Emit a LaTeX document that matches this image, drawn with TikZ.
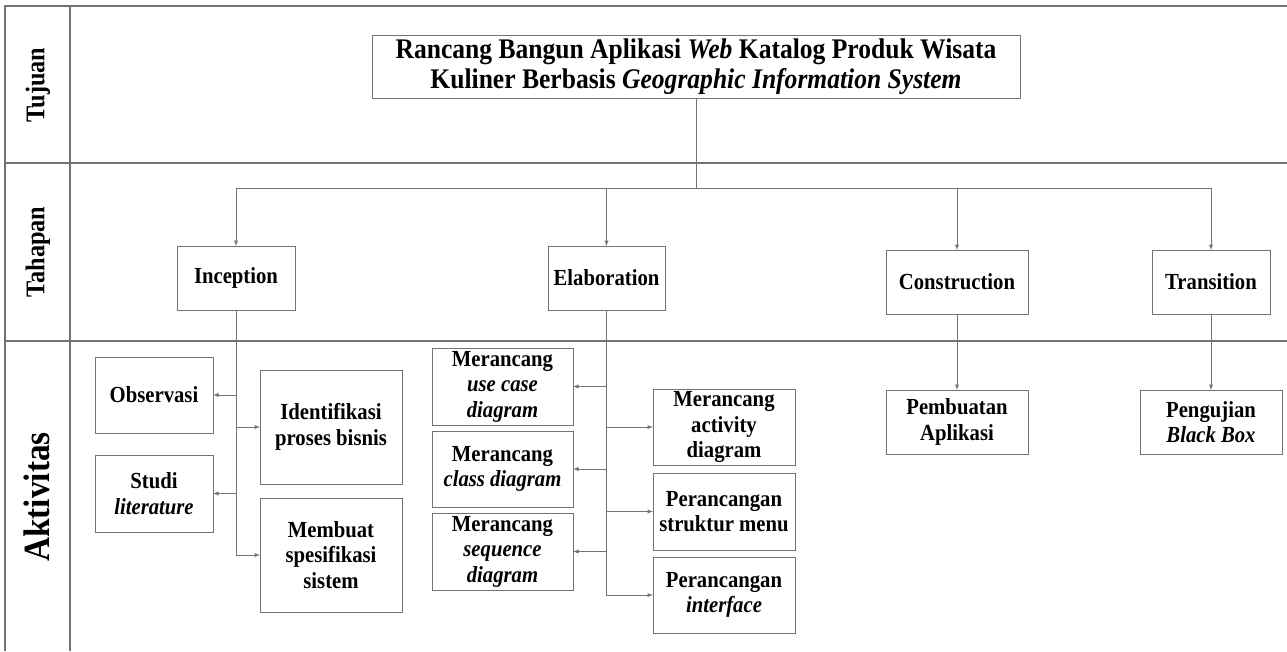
\documentclass[tikz,border=0pt]{standalone}
\usepackage{fontspec}
\setmainfont{Liberation Serif}
\newfontfamily\boxfont{Liberation Serif}[FakeStretch=0.9]
\usetikzlibrary{positioning}
\usetikzlibrary{arrows}

\begin{document}
\begin{tikzpicture}[>=latex,x=1pt,y=-1pt,
	line/.style={draw=black!55,line width=.9pt},
	frame/.style={draw=black!55,line width=1.5pt},
	box/.style={draw=black!55,line width=.9pt,outer sep=0pt,inner sep=0pt,align=center,font=\boxfont\bfseries\fontsize{23}{25.5}\selectfont},
	row_txt/.style={rotate=90,font=\boxfont\bfseries\fontsize{27}{30}\selectfont}]
	\useasboundingbox (0,0) rectangle (1287,651);
	\fill [white] (0,0) rectangle (1287,651);

	\draw [frame] (1287,6) -- (5,6) -- (5,651);
	\draw [frame] (70,6) -- (70,651);
	\draw [frame] (5,163) -- (1287,163);
	\draw [frame] (5,341) -- (1287,341);

	\node [row_txt] at (38,85) (tujuan_txt) {Tujuan};
	\node [row_txt] at (38,252) (tahapan_txt) {Tahapan};
	\node [row_txt,font=\boxfont\bfseries\fontsize{37}{40}\selectfont] at (37,497) (aktivitas_txt) {Aktivitas};

	\node [box,minimum width=648pt,minimum height=63pt,font=\boxfont\bfseries\fontsize{28.4}{30}\selectfont] at (696,67) (title_box) {Rancang Bangun Aplikasi \textit{Web} Katalog Produk Wisata\\Kuliner Berbasis \textit{Geographic Information System}};

	\node [box,minimum width=118pt,minimum height=64pt] at (236,278) (phase_inc) {Inception};
	\node [box,minimum width=117pt,minimum height=64pt] at (606.5,278) (phase_ela) {Elaboration};
	\node [box,minimum width=142pt,minimum height=64pt] at (957,282) (phase_con) {Construction};
	\node [box,minimum width=118pt,minimum height=64pt] at (1211,282) (phase_tra) {Transition};

	\node [box,minimum width=118pt,minimum height=76pt] at (154,395) (act_obs) {Observasi};
	\node [box,minimum width=118pt,minimum height=77pt,below=22pt of act_obs] (act_stu) {Studi\\\textit{literature}};
	\node [box,minimum width=142pt,minimum height=114pt] at (331,427) (act_idn) {Identifikasi\\proses bisnis};
	\node [box,minimum width=142pt,minimum height=114pt,below=14pt of act_idn] (act_mem) {Membuat\\spesifikasi\\sistem};

	\node [box,minimum width=141pt,minimum height=77pt] at (502.5,386.5) (act_uc) {Merancang\\\textit{use case}\\\textit{diagram}};
	\node [box,minimum width=141pt,minimum height=76pt,below=6pt of act_uc] (act_cls) {Merancang\\\textit{class diagram}};
	\node [box,minimum width=141pt,minimum height=77pt,below=6pt of act_cls] (act_seq) {Merancang\\\textit{sequence}\\\textit{diagram}};
	\node [box,minimum width=142pt,minimum height=76pt] at (724,427) (act_act) {Merancang\\activity\\diagram};
	\node [box,minimum width=142pt,minimum height=77pt,below=8pt of act_act] (act_str) {Perancangan\\struktur menu};
	\node [box,minimum width=142pt,minimum height=76pt,below=7pt of act_str] (act_inf) {Perancangan\\\textit{interface}};

	\node [box,minimum width=142pt,minimum height=64pt] at (957,422) (act_pem) {Pembuatan\\Aplikasi};
	\node [box,minimum width=142pt,minimum height=64pt] at (1211,422) (act_pen) {Pengujian\\\textit{Black Box}};

	\coordinate (bus_mid) at (696,188);
	\draw [line] (title_box.south) -- (bus_mid);
	\draw [line,->] (bus_mid) -| (phase_inc.north);
	\draw [line,->] (bus_mid) -| (phase_ela.north);
	\draw [line,->] (bus_mid) -| (phase_con.north);
	\draw [line,->] (bus_mid) -| (phase_tra.north);

	\draw [line,->] (phase_inc.south) |- (act_obs.east);
	\draw [line,->] (phase_inc.south) |- (act_stu.east);
	\draw [line,->] (phase_inc.south) |- (act_idn.west);
	\draw [line,->] (phase_inc.south) |- (act_mem.west);

	\draw [line,->] (phase_ela.south) |- (act_uc.east);
	\draw [line,->] (phase_ela.south) |- (act_cls.east);
	\draw [line,->] (phase_ela.south) |- (act_seq.east);
	\draw [line,->] (phase_ela.south) |- (act_act.west);
	\draw [line,->] (phase_ela.south) |- (act_str.west);
	\draw [line,->] (phase_ela.south) |- (act_inf.west);

	\draw [line,->] (phase_con.south) -- (act_pem.north);
	\draw [line,->] (phase_tra.south) -- (act_pen.north);
\end{tikzpicture}
\end{document}
